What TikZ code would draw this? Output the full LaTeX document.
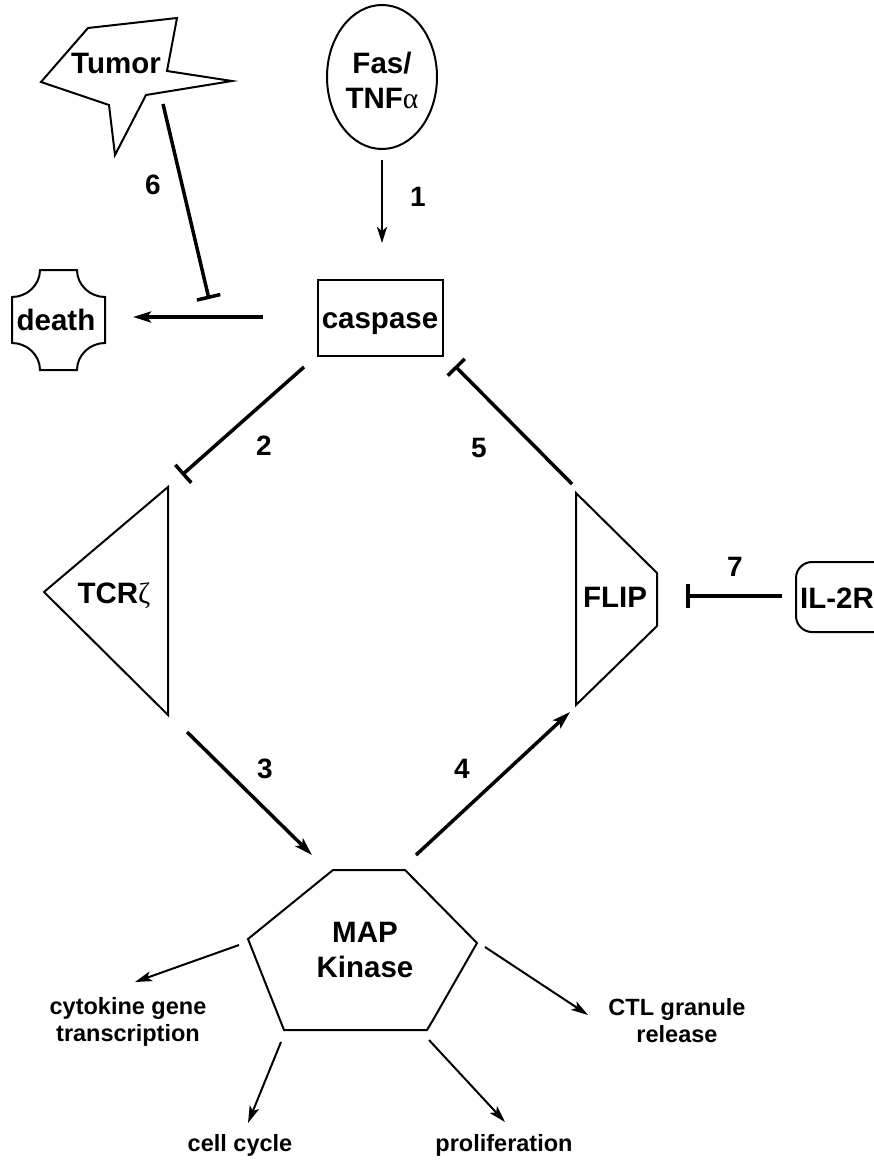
\documentclass[tikz,border=0pt]{standalone}
\usepackage{fontspec}
\setmainfont{Liberation Sans}
\newfontfamily\grk{Liberation Serif}
\usetikzlibrary{arrows.meta}
\begin{document}
\begin{tikzpicture}[x=1pt,y=-1pt,
  shapeline/.style={line width=2pt, line join=miter},
  lbl/.style={font=\bfseries\fontsize{29.5}{35}\selectfont, align=center, inner sep=0pt},
  num/.style={font=\bfseries\fontsize{28}{32}\selectfont, inner sep=0pt, anchor=base},
  small/.style={font=\bfseries\fontsize{23.5}{27}\selectfont, align=center, inner sep=0pt},
  act/.style={line width=3.5pt, -{Stealth[length=18pt,width=11pt,inset=4pt]}},
  act1/.style={line width=2.5pt, -{Stealth[length=16pt,width=10pt,inset=4pt]}},
  inh/.style={line width=3.5pt, -{Bar[width=24pt]}},
  outarr/.style={line width=2pt, -{Stealth[length=17pt,width=10pt,inset=4pt]}}
]
\useasboundingbox (0,0) rectangle (874,1166);

% ---- shapes ----
% Tumor
\draw[shapeline] (88,28) -- (177,18) -- (167,71) -- (232,81) -- (146,95)
  -- (115,155) -- (109,105) -- (41,82) -- cycle;
\node[lbl, anchor=base] (tumor) at (116,74) {Tumor};

% Fas / TNF alpha
\draw[shapeline] (382,77) ellipse [x radius=55, y radius=72];
\node[lbl] (fas) at (382,80) {Fas/\\TNF{\mdseries\grk α}};

% caspase
\draw[shapeline] (318,280) rectangle (443,356);
\node[lbl, anchor=base] (caspase) at (380,328) {caspase};

% death
\draw[shapeline] (40,270) -- (77,270)
  .. controls (77,285) and (90,297) .. (105,297) -- (105,343)
  .. controls (90,343) and (77,355) .. (77,370) -- (40,370)
  .. controls (40,355) and (27,343) .. (12,343) -- (12,297)
  .. controls (27,297) and (40,285) .. (40,270) -- cycle;
\node[lbl, anchor=base] (death) at (56,330) {death};

% TCR zeta
\draw[shapeline] (168,487) -- (168,715) -- (44,592) -- cycle;
\node[lbl, anchor=base] (tcr) at (114,603) {TCR{\mdseries\grk ζ}};

% FLIP
\draw[shapeline] (576,493) -- (657,573) -- (657,626) -- (576,705) -- cycle;
\node[lbl, anchor=base] (flip) at (615,607) {FLIP};

% IL-2R
\draw[shapeline, rounded corners=16pt] (796,562) rectangle (900,632);
\node[lbl, anchor=base] (il2r) at (837,608) {IL-2R};

% MAP Kinase
\draw[shapeline] (333,870) -- (405,870) -- (477,943) -- (433,1020) -- (427,1030)
  -- (284,1030) -- (248,939) -- cycle;
\node[lbl] (map) at (365,950) {MAP\\Kinase};

% ---- connector end points ----
\coordinate (fasOut) at (382,160);
\coordinate (casIn) at (382,243);
\coordinate (casLeft) at (263,317);
\coordinate (deathIn) at (133,317);
\coordinate (tumorOut) at (163,104);
\coordinate (block6) at (209,299);
\coordinate (casSW) at (304,367);
\coordinate (tcrIn) at (182,475);
\coordinate (flipOut) at (572,484);
\coordinate (casSE) at (455,366);
\coordinate (il2rOut) at (782,596);
\coordinate (flipIn) at (686,596);
\coordinate (tcrOut) at (187,732);
\coordinate (mapIn) at (312,855);
\coordinate (mapOut) at (416,855);
\coordinate (flipSW) at (570,712);
\coordinate (mapW) at (239,945);
\coordinate (cytoIn) at (135,982);
\coordinate (mapE) at (485,947);
\coordinate (ctlIn) at (588,1015);
\coordinate (mapSW) at (281,1042);
\coordinate (cellIn) at (248,1123);
\coordinate (mapSE) at (429,1040);
\coordinate (proIn) at (505,1122);

% ---- connectors ----
\draw[act1] (fasOut) -- (casIn);
\draw[act] (casLeft) -- (deathIn);
\draw[inh] (tumorOut) -- (block6);
\draw[inh] (casSW) -- (tcrIn);
\draw[inh] (flipOut) -- (casSE);
\draw[inh] (il2rOut) -- (flipIn);
\draw[act] (tcrOut) -- (mapIn);
\draw[act] (mapOut) -- (flipSW);
\draw[outarr] (mapW) -- (cytoIn);
\draw[outarr] (mapE) -- (ctlIn);
\draw[outarr] (mapSW) -- (cellIn);
\draw[outarr] (mapSE) -- (proIn);

% ---- numbers ----
\node[num] (n1) at (418,207) {1};
\node[num] (n6) at (153,195) {6};
\node[num] (n2) at (264,455) {2};
\node[num] (n5) at (479,457) {5};
\node[num] (n7) at (735,576) {7};
\node[num] (n3) at (265,778) {3};
\node[num] (n4) at (462,778) {4};

% ---- outputs ----
\node[small] (cyto) at (128,1022) {cytokine gene\\transcription};
\node[small] (ctl) at (677,1021) {CTL granule\\release};
\node[small, anchor=base] (cell) at (240,1151) {cell cycle};
\node[small, anchor=base] (prolif) at (504,1151) {proliferation};
\end{tikzpicture}
\end{document}
